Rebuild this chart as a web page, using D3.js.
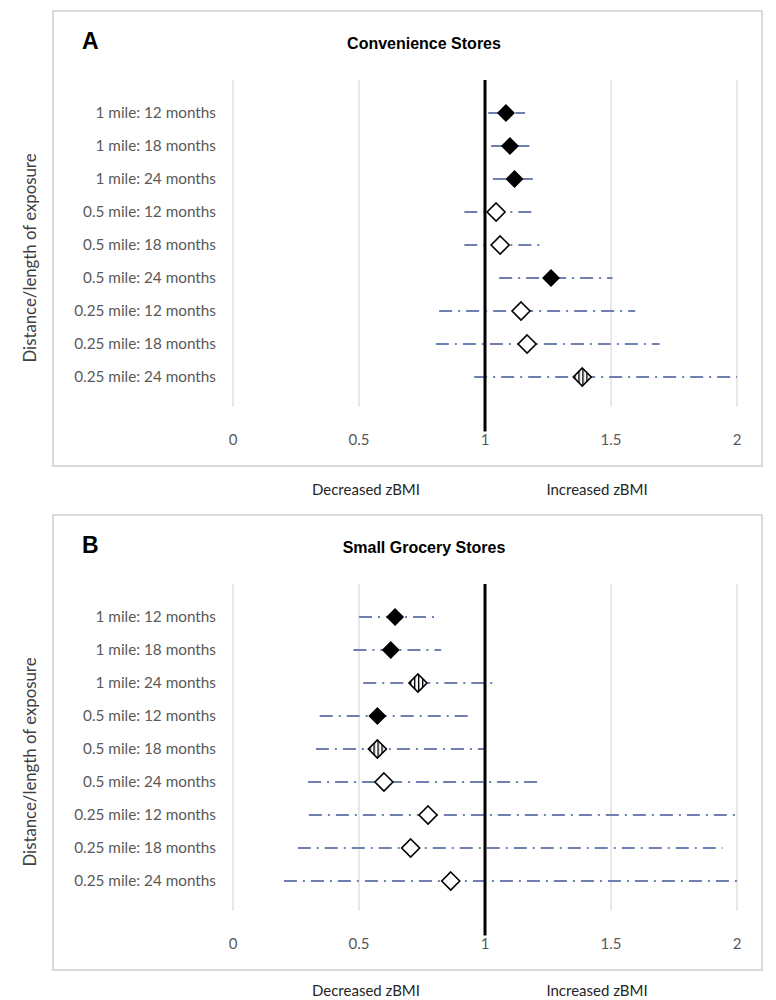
<!DOCTYPE html>
<html>
<head>
<meta charset="utf-8">
<script src="https://cdn.jsdelivr.net/npm/d3@7"></script>
<style>
  body { margin: 0; background: #fff; }
</style>
</head>
<body>
<div id="vis"></div>
<script>
var width = 776;
var height = 1000;

// rows, top to bottom
var rowLabels = [
  "1 mile: 12 months", "1 mile: 18 months", "1 mile: 24 months",
  "0.5 mile: 12 months", "0.5 mile: 18 months", "0.5 mile: 24 months",
  "0.25 mile: 12 months", "0.25 mile: 18 months", "0.25 mile: 24 months"
];
var xTicks = [0, 0.5, 1, 1.5, 2];

// panel A - convenience stores
var convEst  = [1.083, 1.099, 1.117, 1.044, 1.060, 1.262, 1.143, 1.167, 1.386];
var convLow  = [1.013, 1.024, 1.031, 0.918, 0.918, 1.056, 0.818, 0.805, 0.957];
var convHigh = [1.159, 1.176, 1.200, 1.188, 1.225, 1.506, 1.596, 1.693, 2.000];
var convMark = ["filled", "filled", "filled", "open", "open", "filled", "open", "open", "hatched"];

// panel B - small grocery stores
var grocEst  = [0.643, 0.626, 0.734, 0.573, 0.573, 0.599, 0.774, 0.705, 0.864];
var grocLow  = [0.500, 0.478, 0.517, 0.344, 0.329, 0.298, 0.301, 0.257, 0.202];
var grocHigh = [0.809, 0.826, 1.043, 0.955, 0.996, 1.211, 2.000, 1.943, 2.000];
var grocMark = ["filled", "filled", "hatched", "filled", "hatched", "open", "open", "open", "open"];

var svg = d3.select("#vis").append("svg")
    .attr("width", width)
    .attr("height", height);

svg.append("rect").attr("width", width).attr("height", height).attr("fill", "#fff");

// vertical stripes for the in-between markers
svg.append("defs").append("pattern")
    .attr("id", "vhatch")
    .attr("patternUnits", "userSpaceOnUse")
    .attr("width", 4).attr("height", 10)
  .call(function(p){
    p.append("rect").attr("width", 4).attr("height", 10).attr("fill", "#fff");
    p.append("rect").attr("x", 0).attr("width", 1.4).attr("height", 10).attr("fill", "#000");
  });

var x = d3.scaleLinear().domain([0, 2]).range([233, 737]);

// square diamond (d3's own diamond is too tall)
var squareDiamond = {
  draw: function(ctx, size){
    var r = Math.sqrt(size / 2);
    ctx.moveTo(0, -r); ctx.lineTo(r, 0); ctx.lineTo(0, r); ctx.lineTo(-r, 0); ctx.closePath();
  }
};
var diamond = d3.symbol().type(squareDiamond).size(162);

function panel(top, letter, title, est, low, high, marks, labelY) {
  var g = svg.append("g").attr("transform", "translate(0," + top + ")");
  var y = d3.scaleLinear().domain([0, 10]).range([80, 410]);
  var rows = rowLabels.map(function(l, i){
    return {label: l, pos: i + 1, est: est[i], low: low[i], high: high[i], mark: marks[i]};
  });

  g.append("rect")
      .attr("x", 53).attr("y", 11)
      .attr("width", 709).attr("height", 455)
      .attr("fill", "none")
      .attr("stroke", "#d9d9d9")
      .attr("stroke-width", 2);

  g.append("text")
      .attr("x", 82).attr("y", 49)
      .attr("font-family", "Liberation Sans, Arial, sans-serif")
      .attr("font-weight", "bold")
      .attr("font-size", 23)
      .text(letter);

  g.append("text")
      .attr("x", 424).attr("y", 49)
      .attr("text-anchor", "middle")
      .attr("font-family", "Liberation Sans, Arial, sans-serif")
      .attr("font-weight", "bold")
      .attr("font-size", 16)
      .text(title);

  // gridlines
  g.selectAll(".grid")
    .data(xTicks.filter(function(t){ return t !== 1; }))
    .enter().append("line")
      .attr("x1", function(d){ return x(d); })
      .attr("x2", function(d){ return x(d); })
      .attr("y1", y(0)).attr("y2", y(9.9))
      .attr("stroke", "#d9d9d9")
      .attr("stroke-width", 1.2);

  // tick labels
  g.selectAll(".tick")
    .data(xTicks)
    .enter().append("text")
      .attr("x", function(d){ return x(d); })
      .attr("y", y(11.05))
      .attr("text-anchor", "middle")
      .attr("font-family", "Lato, sans-serif")
      .attr("font-size", 15)
      .attr("fill", "#595959")
      .text(function(d){ return d; });

  // row labels
  g.selectAll(".rowlab")
    .data(rows)
    .enter().append("text")
      .attr("x", 216)
      .attr("y", function(d){ return y(d.pos); })
      .attr("dy", "0.35em")
      .attr("text-anchor", "end")
      .attr("font-family", "Lato, sans-serif")
      .attr("font-size", 15.3)
      .attr("fill", "#595959")
      .text(function(d){ return d.label; });

  // confidence intervals
  g.selectAll(".ci")
    .data(rows)
    .enter().append("line")
      .attr("x1", function(d){ return x(d.low); })
      .attr("x2", function(d){ return x(d.high); })
      .attr("y1", function(d){ return y(d.pos); })
      .attr("y2", function(d){ return y(d.pos); })
      .attr("stroke", "#6f80b0")
      .attr("stroke-width", 2.2)
      .attr("stroke-dasharray", "13,6,2,6");

  // reference line at 1
  g.append("line")
      .attr("x1", x(1)).attr("x2", x(1))
      .attr("y1", y(0)).attr("y2", y(10.65))
      .attr("stroke", "#000")
      .attr("stroke-width", 3);

  // estimates
  g.selectAll(".pt")
    .data(rows)
    .enter().append("path")
      .attr("d", diamond)
      .attr("transform", function(d){
        return "translate(" + x(d.est) + "," + y(d.pos) + ")";
      })
      .attr("fill", function(d){
        return d.mark === "filled" ? "#000" : d.mark === "hatched" ? "url(#vhatch)" : "#fff";
      })
      .attr("stroke", "#000")
      .attr("stroke-width", function(d){ return d.mark === "filled" ? 0 : 1.6; });

  // y axis title
  g.append("text")
      .attr("transform", "translate(36," + 258 + ") rotate(-90)")
      .attr("text-anchor", "middle")
      .attr("font-family", "Lato, sans-serif")
      .attr("font-size", 16.8)
      .attr("fill", "#404040")
      .text("Distance/length of exposure");

  // direction labels under the box
  g.append("text")
      .attr("x", 366).attr("y", labelY)
      .attr("text-anchor", "middle")
      .attr("font-family", "Lato, sans-serif")
      .attr("font-size", 15)
      .attr("fill", "#262626")
      .text("Decreased zBMI");
  g.append("text")
      .attr("x", 597).attr("y", labelY)
      .attr("text-anchor", "middle")
      .attr("font-family", "Lato, sans-serif")
      .attr("font-size", 15)
      .attr("fill", "#262626")
      .text("Increased zBMI");
}

panel(0, "A", "Convenience Stores", convEst, convLow, convHigh, convMark, 495);
panel(504, "B", "Small Grocery Stores", grocEst, grocLow, grocHigh, grocMark, 492);
</script>
</body>
</html>
